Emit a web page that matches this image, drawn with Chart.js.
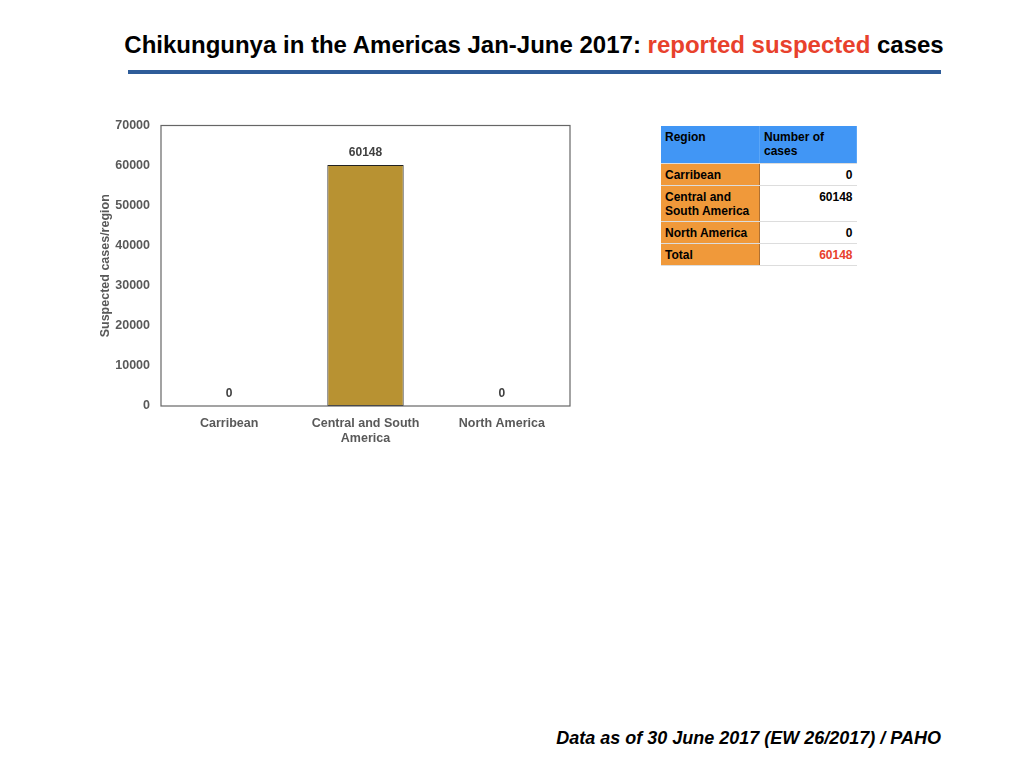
<!DOCTYPE html>
<html>
<head>
<meta charset="utf-8">
<script src="https://cdn.jsdelivr.net/npm/chart.js@4.4.0/dist/chart.umd.min.js"></script>
<style>
  body { margin: 0; width: 1024px; height: 768px; background: #fff; position: relative; font-family: "Liberation Sans", Arial, sans-serif; overflow: hidden; }
  #title { position: absolute; top: 31px; left: 0; width: 1068px; text-align: center; font-weight: bold; font-size: 24px; color: #000; }
  #title span { color: #E8412C; }
  #rule { position: absolute; left: 128px; top: 70px; width: 813px; height: 4px; background: #2E5C99; }
  #box { position: absolute; left: 91px; top: 107px; width: 489px; height: 341px; }
  #foot { position: absolute; right: 83px; top: 728px; font-weight: bold; font-style: italic; font-size: 18px; color: #000; }
  table { position: absolute; left: 661px; top: 126px; border-collapse: collapse; font-size: 12px; font-weight: bold; }
  td { padding: 4px 4px 3px 4px; vertical-align: top; border-bottom: 1px solid #ddd; line-height: 14px; }
  td.r { background: #F0993A; width: 90px; border-right: 1px solid #b07030; }
  td.n { background: #fff; width: 88px; text-align: right; }
  tr.h td { background: #4196F5; height: 30px; text-align: left; border-right: 1px solid #5aa6f8; }
  td.red { color: #E8412C; }
</style>
</head>
<body>
<div id="title">Chikungunya in the Americas Jan-June 2017: <span>reported suspected</span> cases</div>
<div id="rule"></div>
<div id="box"><canvas id="c"></canvas></div>
<table id="tbl"></table>
<div id="foot">Data as of 30 June 2017 (EW 26/2017) / PAHO</div>
<script>
const regions = ['Carribean', 'Central and South America', 'North America'];
const axisLabels = [['Carribean'], ['Central and South', 'America'], ['North America']];
const cases = [0, 60148, 0];
const total = 60148;
const yTicks = [0, 10000, 20000, 30000, 40000, 50000, 60000, 70000];

// side table
const tbl = document.getElementById('tbl');
let rows = '<tr class="h"><td style="width:90px">Region</td><td style="width:88px">Number of<br>cases</td></tr>';
const tableNames = ['Carribean', 'Central and<br>South America', 'North America'];
for (let i = 0; i < regions.length; i++) {
    rows += '<tr><td class="r">' + tableNames[i] + '</td><td class="n">' + cases[i] + '</td></tr>';
}
rows += '<tr><td class="r">Total</td><td class="n red">' + total + '</td></tr>';
tbl.innerHTML = rows;

const frame = {
    id: 'frame',
    afterDraw(chart) {
        const a = chart.chartArea, ctx = chart.ctx;
        ctx.save();
        ctx.strokeStyle = '#666';
        ctx.lineWidth = 1.2;
        ctx.strokeRect(a.left, a.top, a.right - a.left, a.bottom - a.top);
        ctx.restore();
    }
};

const valueLabels = {
    id: 'valueLabels',
    afterDatasetsDraw(chart) {
        const ctx = chart.ctx;
        ctx.save();
        ctx.font = 'bold 12px "Liberation Sans", Arial, sans-serif';
        ctx.fillStyle = '#404040';
        ctx.textAlign = 'center';
        ctx.textBaseline = 'bottom';
        chart.getDatasetMeta(0).data.forEach((bar, i) => {
            ctx.fillText(String(cases[i]), bar.x, bar.y - 6);
        });
        ctx.restore();
    }
};

new Chart(document.getElementById('c'), {
    type: 'bar',
    data: {
        labels: axisLabels,
        datasets: [{
            data: cases,
            backgroundColor: '#B89232',
            borderColor: '#222',
            borderWidth: 1,
            borderSkipped: false,
            barPercentage: 0.56,
            categoryPercentage: 1
        }]
    },
    options: {
        responsive: true,
        maintainAspectRatio: false,
        animation: false,
        layout: { padding: { top: 6, right: 10, left: 5 } },
        plugins: { legend: { display: false }, tooltip: { enabled: false } },
        scales: {
            x: {
                grid: { display: false },
                border: { display: false },
                ticks: { color: '#595959', font: { weight: 'bold', size: 12.5 }, maxRotation: 0, padding: 2 }
            },
            y: {
                min: 0,
                max: 70000,
                afterBuildTicks: axis => { axis.ticks = yTicks.map(v => ({ value: v })); },
                afterFit: axis => { axis.width = 65; },
                grid: { display: false, drawTicks: false },
                border: { display: false },
                ticks: { color: '#595959', font: { weight: 'bold', size: 12.5 }, padding: 11, callback: v => String(v) },
                title: { display: true, text: 'Suspected cases/region', color: '#595959', font: { weight: 'bold', size: 12.5 }, padding: 2 }
            }
        }
    },
    plugins: [frame, valueLabels]
});
</script>
</body>
</html>
